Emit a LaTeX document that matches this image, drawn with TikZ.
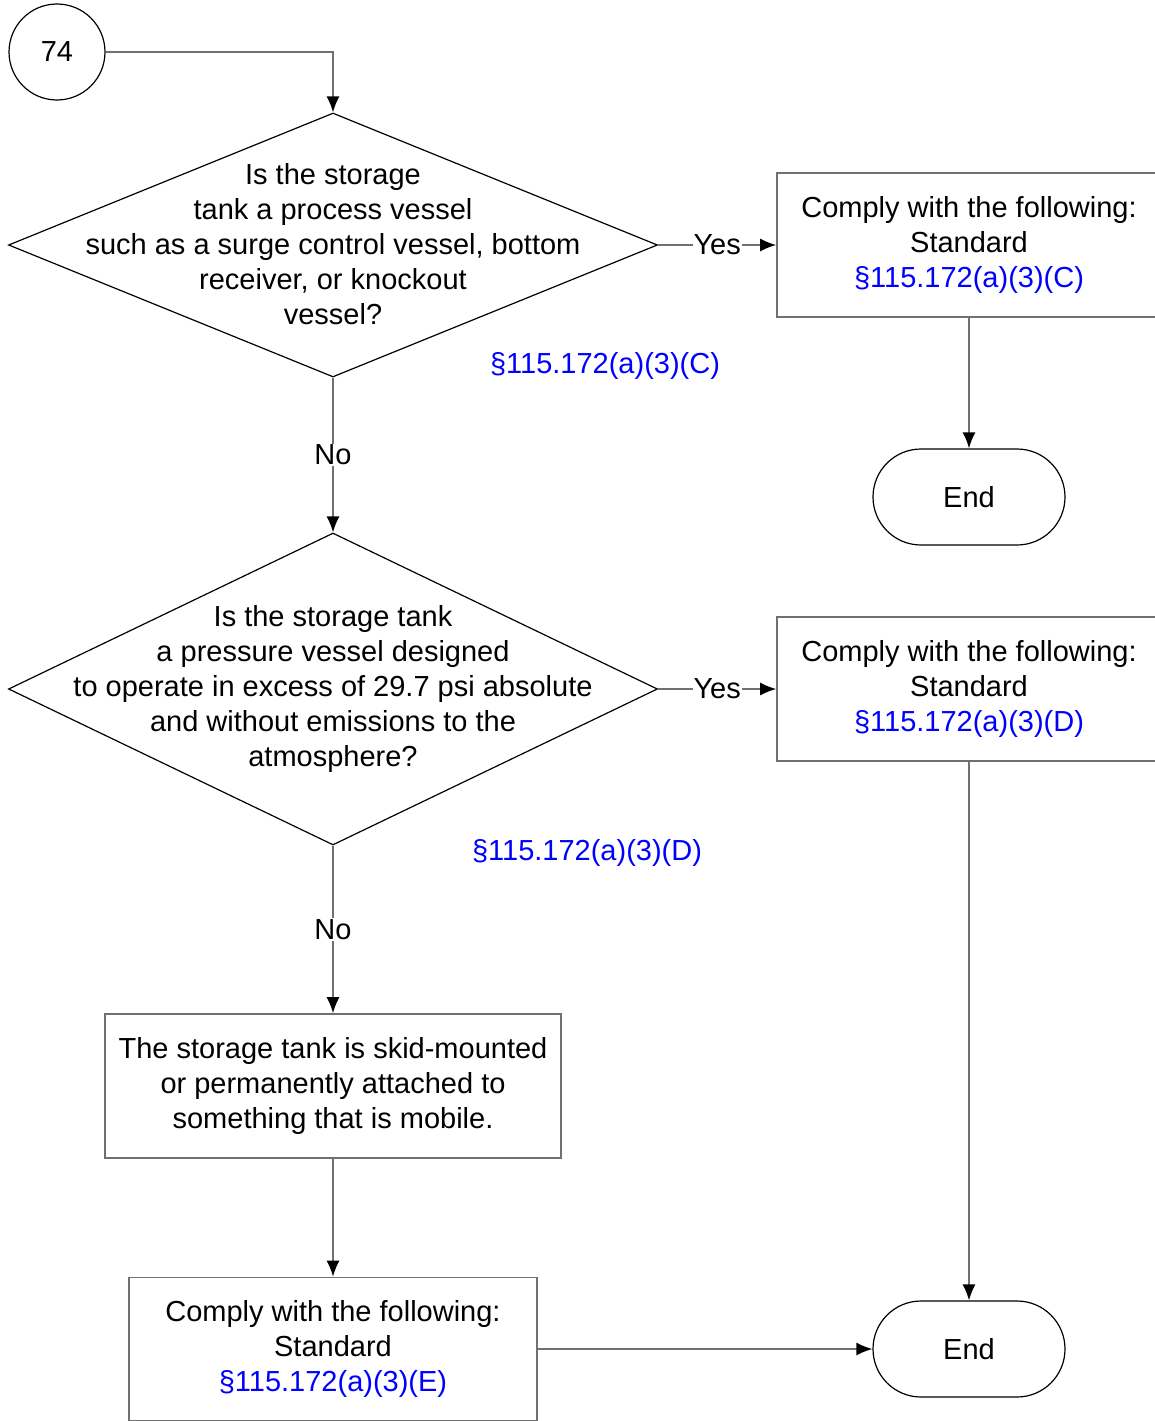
\documentclass[tikz,border=0pt]{standalone}
\usepackage{fontspec}
\setmainfont{Liberation Sans}
\usetikzlibrary{shapes.geometric, shapes.misc, arrows.meta, positioning}

\definecolor{linegray}{RGB}{112,112,112}
\definecolor{reflink}{RGB}{0,0,255}

\begin{document}
\begin{tikzpicture}[x=1pt, y=-1pt,
			>={Latex[length=16pt,width=13pt,color=black]},   %arrow tips
			font=\fontsize{29}{35}\selectfont,
			connector/.style={draw=linegray, line width=1.6pt},
			startnode/.style={circle, draw=black, line width=1.2pt, minimum size=96pt, inner sep=0pt},
			decision/.style={diamond, draw=black, line width=1.2pt, minimum width=649pt, minimum height=264pt, inner sep=0pt},
			action/.style={rectangle, draw=linegray, line width=1.6pt, minimum width=384pt, minimum height=144pt, align=center, inner sep=0pt},
			terminal/.style={rounded rectangle, draw=black, line width=1.2pt, minimum width=192pt, minimum height=96pt, inner sep=0pt},
			reflabel/.style={text=reflink, inner sep=0pt},
			lbl/.style={fill=white, inner sep=1pt}]
			%picture frame
			\path[use as bounding box, clip] (0,0) rectangle (1155,1421);
			% start
			\node[startnode] (c74) at (57,52) {74};
			% first question
			\node[decision] (q1) at (333,245) {};
			\node[align=center, inner sep=0pt] (q1txt) at (333,244) {Is the storage\\tank a process vessel\\such as a surge control vessel, bottom\\receiver, or knockout\\vessel?};
			\node[action] (a1) at (969,245) {Comply with the following:\\Standard\\\textcolor{reflink}{§115.172(a)(3)(C)}};
			\node[terminal] (end1) at (969,497) {End};
			\node[reflabel] (ref1) at (605,366) {§115.172(a)(3)(C)};
			% second question
			\node[decision, minimum height=312pt] (q2) at (333,689) {};
			\node[align=center, inner sep=0pt] (q2txt) at (333,689) {Is the storage tank\\a pressure vessel designed\\to operate in excess of 29.7 psi absolute\\and without emissions to the\\atmosphere?};
			\node[action] (a2) at (969,689) {Comply with the following:\\Standard\\\textcolor{reflink}{§115.172(a)(3)(D)}};
			\node[reflabel] (ref2) at (587,853) {§115.172(a)(3)(D)};
			% lower part
			\node[action, minimum width=456pt] (mobile) at (333,1086) {The storage tank is skid-mounted\\or permanently attached to\\something that is mobile.};
			\node[action, minimum width=408pt, minimum height=143pt] (a3) at (333,1349) {Comply with the following:\\Standard\\\textcolor{reflink}{§115.172(a)(3)(E)}};
			\node[terminal] (end2) at (969,1349) {End};
			% connectors
			\draw[connector,->] (c74.east) -| (q1.north);
			\draw[connector,->] (q1.east) -- node[lbl] {Yes} (a1.west);
			\draw[connector,->] (a1.south) -- (end1.north);
			\draw[connector,->] (q1.south) -- node[lbl] {No} (q2.north);
			\draw[connector,->] (q2.east) -- node[lbl] {Yes} (a2.west);
			\draw[connector,->] (a2.south) -- (end2.north);
			\draw[connector,->] (q2.south) -- node[lbl] {No} (mobile.north);
			\draw[connector,->] (mobile.south) -- (a3.north);
			\draw[connector,->] (a3.east) -- (end2.west);
		\end{tikzpicture}
\end{document}
